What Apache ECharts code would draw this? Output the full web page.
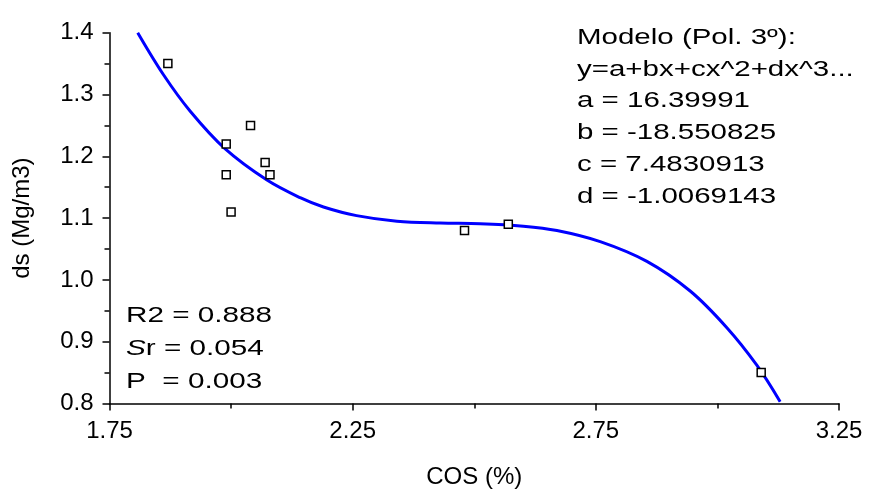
<!DOCTYPE html>
<html>
<head>
<meta charset="utf-8">
<script src="https://cdn.jsdelivr.net/npm/echarts@6/dist/echarts.min.js"></script>
<style>
html,body{margin:0;padding:0;background:#ffffff;}
#chart{width:870px;height:500px;}
</style>
</head>
<body>
<div id="chart"></div>
<script>
// Observed data points (COS %, ds Mg/m3)
const pointX = [1.87, 1.99, 1.99, 2.00, 2.04, 2.07, 2.08, 2.48, 2.57, 3.09];
const pointY = [1.35, 1.22, 1.17, 1.11, 1.25, 1.19, 1.17, 1.08, 1.09, 0.85];

// Fitted curve
const curveX = [1.808, 1.861, 1.916, 1.988, 2.073, 2.142, 2.190, 2.258, 2.341, 2.430, 2.512, 2.601, 2.670, 2.759, 2.855, 2.944, 3.019, 3.081, 3.129];
const curveY = [1.400, 1.332, 1.273, 1.212, 1.162, 1.133, 1.118, 1.104, 1.095, 1.092, 1.091, 1.087, 1.080, 1.062, 1.030, 0.982, 0.923, 0.862, 0.803];

// Axis settings
const xTicks = [1.75, 2.25, 2.75, 3.25];
const yTicks = [0.8, 0.9, 1.0, 1.1, 1.2, 1.3, 1.4];

// Annotation texts
const modelLines = [
  'Modelo (Pol. 3\u00BA):',
  'y=a+bx+cx^2+dx^3...',
  'a = 16.39991',
  'b = -18.550825',
  'c = 7.4830913',
  'd = -1.0069143'
];
const statLines = [
  'R2 = 0.888',
  '{i|S}r = 0.054',
  'P  = 0.003'
];

const FONT = 'Liberation Sans';
const chart = echarts.init(document.getElementById('chart'), null, {renderer: 'canvas'});

const graphics = [];
modelLines.forEach((t, i) => {
  graphics.push({
    type: 'text', x: 577, y: 38 + 31.7 * i, scaleX: 1.34, z: 100,
    style: {text: t, fontSize: 22, fontFamily: FONT, fill: '#000', textAlign: 'left', textVerticalAlign: 'middle'}
  });
});
statLines.forEach((t, i) => {
  graphics.push({
    type: 'text', x: 126, y: 316 + 33 * i, scaleX: 1.35, z: 100,
    style: {
      text: t, fontSize: 22, fontFamily: FONT, fill: '#000', textAlign: 'left', textVerticalAlign: 'middle',
      rich: {i: {fontSize: 22, fontFamily: FONT, fontStyle: 'italic', fill: '#000'}}
    }
  });
});

chart.setOption({
  backgroundColor: '#ffffff',
  animation: false,
  grid: {left: 109.5, right: 31, top: 32.7, bottom: 96.5, containLabel: false},
  xAxis: {
    type: 'value', min: xTicks[0], max: xTicks[xTicks.length - 1], interval: 0.5,
    name: 'COS (%)', nameLocation: 'middle', nameGap: 62,
    nameTextStyle: {fontSize: 24, fontFamily: FONT, color: '#000'},
    axisLine: {show: true, onZero: false, lineStyle: {color: '#000', width: 1.5}},
    axisTick: {show: true, inside: false, length: 7, lineStyle: {color: '#000', width: 1.5}},
    minorTick: {show: true, splitNumber: 2, length: 5, lineStyle: {color: '#000', width: 1.5}},
    splitLine: {show: false},
    axisLabel: {fontSize: 24, fontFamily: FONT, color: '#000', margin: 16,
      formatter: v => v.toFixed(2)}
  },
  yAxis: {
    type: 'value', min: yTicks[0], max: yTicks[yTicks.length - 1], interval: 0.1,
    name: 'ds (Mg/m3)', nameLocation: 'middle', nameGap: 75, nameRotate: 90,
    nameTextStyle: {fontSize: 24, fontFamily: FONT, color: '#000'},
    axisLine: {show: true, onZero: false, lineStyle: {color: '#000', width: 1.5}},
    axisTick: {show: true, inside: false, length: 7, lineStyle: {color: '#000', width: 1.5}},
    minorTick: {show: true, splitNumber: 2, length: 5, lineStyle: {color: '#000', width: 1.5}},
    splitLine: {show: false},
    axisLabel: {fontSize: 24, fontFamily: FONT, color: '#000', margin: 16,
      formatter: v => v.toFixed(1)}
  },
  series: [
    {
      type: 'line', name: 'fit', data: curveX.map((x, i) => [x, curveY[i]]),
      smooth: 0.35, showSymbol: false, symbol: 'none',
      lineStyle: {color: '#0000ff', width: 3}, z: 2, silent: true
    },
    {
      type: 'scatter', name: 'obs', data: pointX.map((x, i) => [x, pointY[i]]),
      symbol: 'rect', symbolSize: 8,
      itemStyle: {color: '#ffffff', borderColor: '#000', borderWidth: 1.5, opacity: 1}, z: 3
    }
  ],
  graphic: graphics
});
</script>
</body>
</html>
